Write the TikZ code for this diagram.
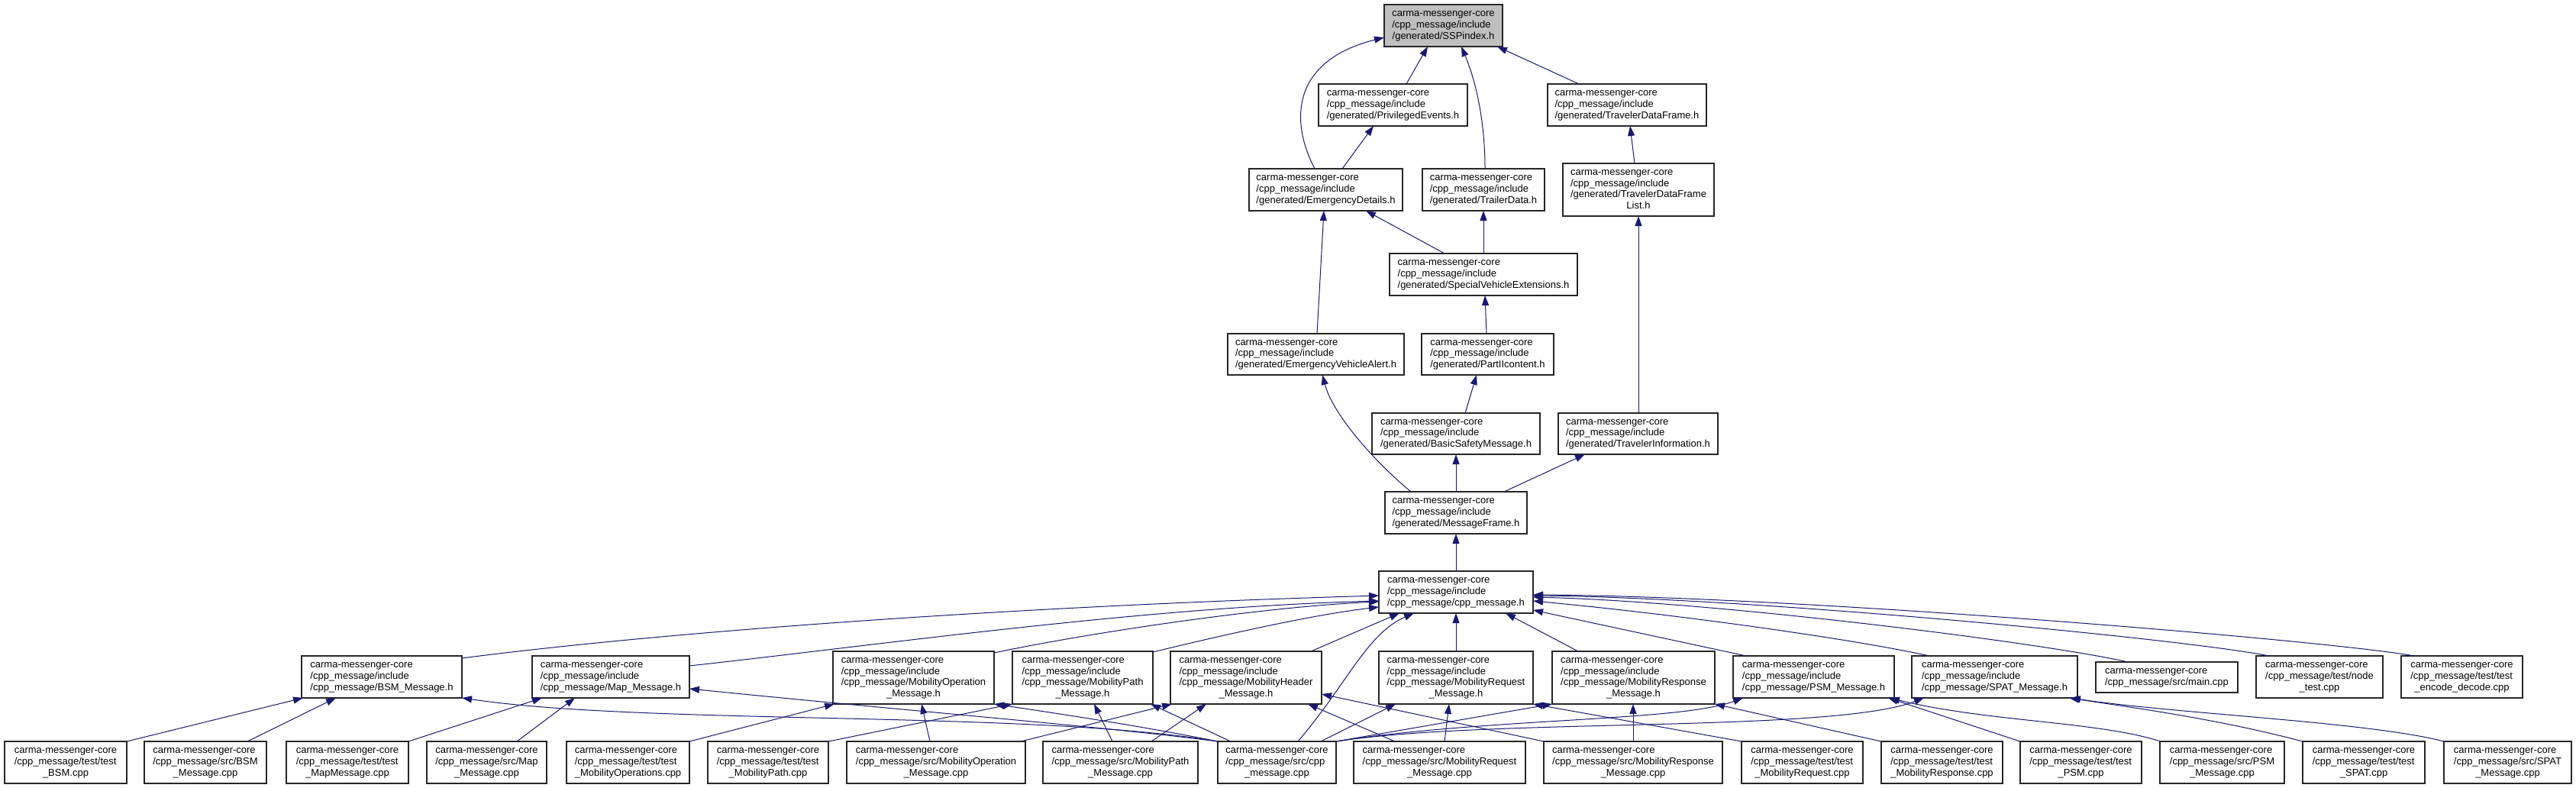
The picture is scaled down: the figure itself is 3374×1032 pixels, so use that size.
\documentclass[tikz,border=0pt]{standalone}
\usepackage{fontspec}
\setmainfont{Liberation Sans}
\usetikzlibrary{arrows.meta,calc}
\definecolor{edgeblue}{HTML}{191970}
\definecolor{rootfill}{HTML}{BFBFBF}
\newcommand\gvTwo[2]{\begin{tabular}{@{}l@{}}#1\\\multicolumn{1}{@{}c@{}}{#2}\end{tabular}}
\newcommand\gvThree[3]{\begin{tabular}{@{}l@{}}#1\\#2\\\multicolumn{1}{@{}c@{}}{#3}\end{tabular}}
\newcommand\gvFour[4]{\begin{tabular}{@{}l@{}}#1\\#2\\#3\\\multicolumn{1}{@{}c@{}}{#4}\end{tabular}}
\newcommand\cmc{carma-messenger-core}
\newcommand\cmi{/cpp\_message/include}
\begin{document}
\begin{tikzpicture}[x=1pt,y=-1pt,
  box/.style={draw=black!85, line width=1.2pt, fill=white, rectangle, inner sep=0pt, outer sep=0pt, anchor=north west, font=\fontsize{13}{14.7}\selectfont},
  edge/.style={draw=edgeblue, line width=1pt, -{Triangle[length=13pt,width=9pt]}}]
\fill[white] (0,0) rectangle (3374,1032);
\useasboundingbox (0,0) rectangle (3374,1032);
% ---- top part
\node[box, fill=rootfill, minimum width=155pt, minimum height=55pt] (ssp) at (1813,6) {\gvThree{\cmc}{\cmi}{/generated/SSPindex.h}};
\node[box, minimum width=195pt, minimum height=55pt] (priv) at (1727,110) {\gvThree{\cmc}{\cmi}{/generated/PrivilegedEvents.h}};
\node[box, minimum width=208pt, minimum height=55pt] (tdf) at (2027,110) {\gvThree{\cmc}{\cmi}{/generated/TravelerDataFrame.h}};
\node[box, minimum width=201pt, minimum height=55pt] (ed) at (1636,221) {\gvThree{\cmc}{\cmi}{/generated/EmergencyDetails.h}};
\node[box, minimum width=160pt, minimum height=55pt] (trl) at (1863,221) {\gvThree{\cmc}{\cmi}{/generated/TrailerData.h}};
\node[box, minimum width=198pt, minimum height=69pt] (tdfl) at (2047,214) {\gvFour{\cmc}{\cmi}{/generated/TravelerDataFrame}{List.h}};
\node[box, minimum width=246pt, minimum height=55pt] (sve) at (1820,332) {\gvThree{\cmc}{\cmi}{/generated/SpecialVehicleExtensions.h}};
\node[box, minimum width=231pt, minimum height=54pt] (eva) at (1608,437) {\gvThree{\cmc}{\cmi}{/generated/EmergencyVehicleAlert.h}};
\node[box, minimum width=173pt, minimum height=54pt] (p2) at (1862,437) {\gvThree{\cmc}{\cmi}{/generated/PartIIcontent.h}};
\node[box, minimum width=220pt, minimum height=54pt] (bsmsg) at (1797,541) {\gvThree{\cmc}{\cmi}{/generated/BasicSafetyMessage.h}};
\node[box, minimum width=209pt, minimum height=54pt] (ti) at (2041,541) {\gvThree{\cmc}{\cmi}{/generated/TravelerInformation.h}};
\node[box, minimum width=186pt, minimum height=55pt] (mf) at (1814,644) {\gvThree{\cmc}{\cmi}{/generated/MessageFrame.h}};
\node[box, minimum width=202pt, minimum height=55pt] (cpph) at (1806,748) {\gvThree{\cmc}{\cmi}{/cpp\_message/cpp\_message.h}};
% ---- row of headers
\node[box, minimum width=210pt, minimum height=55pt] (bsmh) at (395,859) {\gvThree{\cmc}{\cmi}{/cpp\_message/BSM\_Message.h}};
\node[box, minimum width=206pt, minimum height=55pt] (maph) at (697,859) {\gvThree{\cmc}{\cmi}{/cpp\_message/Map\_Message.h}};
\node[box, minimum width=211pt, minimum height=69pt] (moph) at (1091,853) {\gvFour{\cmc}{\cmi}{/cpp\_message/MobilityOperation}{\_Message.h}};
\node[box, minimum width=184pt, minimum height=69pt] (mpah) at (1326,853) {\gvFour{\cmc}{\cmi}{/cpp\_message/MobilityPath}{\_Message.h}};
\node[box, minimum width=198pt, minimum height=69pt] (mhdh) at (1533,853) {\gvFour{\cmc}{\cmi}{/cpp\_message/MobilityHeader}{\_Message.h}};
\node[box, minimum width=202pt, minimum height=69pt] (mreqh) at (1806,853) {\gvFour{\cmc}{\cmi}{/cpp\_message/MobilityRequest}{\_Message.h}};
\node[box, minimum width=213pt, minimum height=69pt] (mresh) at (2033,853) {\gvFour{\cmc}{\cmi}{/cpp\_message/MobilityResponse}{\_Message.h}};
\node[box, minimum width=211pt, minimum height=55pt] (psmh) at (2270,859) {\gvThree{\cmc}{\cmi}{/cpp\_message/PSM\_Message.h}};
\node[box, minimum width=217pt, minimum height=55pt] (spath) at (2504,859) {\gvThree{\cmc}{\cmi}{/cpp\_message/SPAT\_Message.h}};
\node[box, minimum width=186pt, minimum height=40pt] (mainc) at (2745,867) {\gvTwo{\cmc}{/cpp\_message/src/main.cpp}};
\node[box, minimum width=166pt, minimum height=55pt] (nodet) at (2955,859) {\gvThree{\cmc}{/cpp\_message/test/node}{\_test.cpp}};
\node[box, minimum width=159pt, minimum height=55pt] (encd) at (3145,859) {\gvThree{\cmc}{/cpp\_message/test/test}{\_encode\_decode.cpp}};
% ---- bottom row
\node[box, minimum width=160pt, minimum height=55pt] (tbsm) at (6,971) {\gvThree{\cmc}{/cpp\_message/test/test}{\_BSM.cpp}};
\node[box, minimum width=160pt, minimum height=55pt] (sbsm) at (189,971) {\gvThree{\cmc}{/cpp\_message/src/BSM}{\_Message.cpp}};
\node[box, minimum width=160pt, minimum height=55pt] (tmap) at (375,971) {\gvThree{\cmc}{/cpp\_message/test/test}{\_MapMessage.cpp}};
\node[box, minimum width=157pt, minimum height=55pt] (smap) at (559,971) {\gvThree{\cmc}{/cpp\_message/src/Map}{\_Message.cpp}};
\node[box, minimum width=161pt, minimum height=55pt] (tmop) at (742,971) {\gvThree{\cmc}{/cpp\_message/test/test}{\_MobilityOperations.cpp}};
\node[box, minimum width=158pt, minimum height=55pt] (tmpa) at (927,971) {\gvThree{\cmc}{/cpp\_message/test/test}{\_MobilityPath.cpp}};
\node[box, minimum width=234pt, minimum height=55pt] (smop) at (1109,971) {\gvThree{\cmc}{/cpp\_message/src/MobilityOperation}{\_Message.cpp}};
\node[box, minimum width=203pt, minimum height=55pt] (smpa) at (1366,971) {\gvThree{\cmc}{/cpp\_message/src/MobilityPath}{\_Message.cpp}};
\node[box, minimum width=155pt, minimum height=55pt] (scpp) at (1595,971) {\gvThree{\cmc}{/cpp\_message/src/cpp}{\_message.cpp}};
\node[box, minimum width=225pt, minimum height=55pt] (smreq) at (1773,971) {\gvThree{\cmc}{/cpp\_message/src/MobilityRequest}{\_Message.cpp}};
\node[box, minimum width=234pt, minimum height=55pt] (smres) at (2022,971) {\gvThree{\cmc}{/cpp\_message/src/MobilityResponse}{\_Message.cpp}};
\node[box, minimum width=159pt, minimum height=55pt] (tmreq) at (2281,971) {\gvThree{\cmc}{/cpp\_message/test/test}{\_MobilityRequest.cpp}};
\node[box, minimum width=159pt, minimum height=55pt] (tmres) at (2464,971) {\gvThree{\cmc}{/cpp\_message/test/test}{\_MobilityResponse.cpp}};
\node[box, minimum width=159pt, minimum height=55pt] (tpsm) at (2646,971) {\gvThree{\cmc}{/cpp\_message/test/test}{\_PSM.cpp}};
\node[box, minimum width=163pt, minimum height=55pt] (spsm) at (2829,971) {\gvThree{\cmc}{/cpp\_message/src/PSM}{\_Message.cpp}};
\node[box, minimum width=160pt, minimum height=55pt] (tspat) at (3016,971) {\gvThree{\cmc}{/cpp\_message/test/test}{\_SPAT.cpp}};
\node[box, minimum width=167pt, minimum height=55pt] (sspat) at (3201,971) {\gvThree{\cmc}{/cpp\_message/src/SPAT}{\_Message.cpp}};
% ---- edges top part
\draw[edge] ($(priv.north west)+(115,0)$) -- ($(ssp.south west)+(57,0)$);
\draw[edge] ($(ed.north west)+(86,0)$) .. controls +(-32,-61) and +(-123,31) .. ($(ssp.north west)+(0,43)$);
\draw[edge] ($(trl.north west)+(82,0)$) .. controls +(0,-71) and +(16,38) .. ($(ssp.south west)+(101,0)$);
\draw[edge] ($(tdf.north west)+(41,0)$) -- ($(ssp.south west)+(148,0)$);
\draw[edge] ($(ed.north west)+(122,0)$) -- ($(priv.south west)+(72,0)$);
\draw[edge] ($(tdfl.north west)+(94,0)$) -- ($(tdf.south west)+(108,0)$);
\draw[edge] ($(sve.north west)+(72,0)$) -- ($(ed.south west)+(153,0)$);
\draw[edge] ($(sve.north west)+(123,0)$) -- ($(trl.south west)+(80,0)$);
\draw[edge] ($(eva.north west)+(117,0)$) -- ($(ed.south west)+(98,0)$);
\draw[edge] ($(ti.north west)+(105,0)$) -- ($(tdfl.south west)+(99,0)$);
\draw[edge] ($(p2.north west)+(85,0)$) -- ($(sve.south west)+(125,0)$);
\draw[edge] ($(bsmsg.north west)+(122,0)$) -- ($(p2.south west)+(72,0)$);
\draw[edge] ($(mf.north west)+(34,0)$) .. controls +(-53,-44) and +(13,49) .. ($(eva.south west)+(124,0)$);
\draw[edge] ($(mf.north west)+(93,0)$) -- ($(bsmsg.south west)+(110,0)$);
\draw[edge] ($(mf.north west)+(156,0)$) -- ($(ti.south west)+(35,0)$);
\draw[edge] ($(cpph.north west)+(101,0)$) -- ($(mf.south west)+(93,0)$);
% ---- edges into cpp_message.h
\draw[edge] ($(bsmh.north east)+(0,3)$) .. controls +(245,-32) and +(-506,15) .. ($(cpph.north west)+(0,32)$);
\draw[edge] ($(maph.north east)+(0,13)$) .. controls +(247,-27) and +(-306,8) .. ($(cpph.north west)+(0,39)$);
\draw[edge] ($(moph.north east)+(0,2)$) .. controls +(118,-25) and +(-156,7) .. ($(cpph.north west)+(0,40)$);
\draw[edge] ($(mpah.north east)+(0,1)$) .. controls +(90,-22) and +(-86,10) .. ($(cpph.north west)+(0,47)$);
\draw[edge] ($(mhdh.north west)+(184,0)$) -- ($(cpph.south west)+(27,0)$);
\draw[edge] ($(scpp.north west)+(105,0)$) .. controls +(65,-76) and +(-62,27) .. ($(cpph.south west)+(46,0)$);
\draw[edge] ($(mreqh.north west)+(101,0)$) -- ($(cpph.south west)+(101,0)$);
\draw[edge] ($(mresh.north west)+(34,0)$) -- ($(cpph.south west)+(166,0)$);
\draw[edge] ($(psmh.north west)+(17,0)$) -- ($(cpph.north east)+(0,51)$);
\draw[edge] ($(spath.north west)+(23,0)$) .. controls +(-100,-22) and +(192,18) .. ($(cpph.north east)+(0,39)$);
\draw[edge] ($(mainc.north west)+(42,0)$) .. controls +(-110,-25) and +(242,6) .. ($(cpph.north east)+(0,34)$);
\draw[edge] ($(nodet.north west)+(17,0)$) .. controls +(-110,-22) and +(292,3) .. ($(cpph.north east)+(0,32)$);
\draw[edge] ($(encd.north west)+(17,0)$) .. controls +(-110,-20) and +(350,2) .. ($(cpph.north east)+(0,31)$);
% ---- edges bottom row
\draw[edge] (tbsm.north east) -- ($(bsmh.south west)+(2,0)$);
\draw[edge] ($(sbsm.north west)+(135,0)$) -- ($(bsmh.south west)+(45,0)$);
\draw[edge] (scpp.north west) .. controls +(-245,-41) and +(244,36) .. (bsmh.south east);
\draw[edge] (tmap.north east) -- ($(maph.south west)+(13,0)$);
\draw[edge] ($(smap.north west)+(118,0)$) -- ($(maph.south west)+(56,0)$);
\draw[edge] (scpp.north west) .. controls +(-145,-19) and +(297,30) .. ($(maph.north east)+(0,43)$);
\draw[edge] (tmop.north east) -- ($(moph.south west)+(2,0)$);
\draw[edge] ($(smop.north west)+(109,0)$) -- ($(moph.south west)+(116,0)$);
\draw[edge] (scpp.north west) .. controls +(-100,-20) and +(100,15) .. (moph.south east);
\draw[edge] (tmpa.north east) -- (mpah.south west);
\draw[edge] ($(smpa.north west)+(91,0)$) -- ($(mpah.south west)+(107,0)$);
\draw[edge] ($(scpp.north west)+(17,0)$) -- ($(mpah.south east)+(-3,0)$);
\draw[edge] ($(smop.north east)+(-6,0)$) -- ($(mhdh.south west)+(2,0)$);
\draw[edge] ($(smpa.north west)+(142,0)$) -- ($(mhdh.south west)+(47,0)$);
\draw[edge] ($(smreq.north west)+(54,0)$) -- ($(mhdh.south west)+(180,0)$);
\draw[edge] (smres.north west) -- ($(mhdh.north east)+(0,56)$);
\draw[edge] ($(scpp.north west)+(135,0)$) -- ($(mreqh.south west)+(22,0)$);
\draw[edge] ($(smreq.north west)+(119,0)$) -- ($(mreqh.south west)+(92,0)$);
\draw[edge] (tmreq.north west) -- (mreqh.south east);
\draw[edge] (scpp.north east) -- (mresh.south west);
\draw[edge] ($(smres.north west)+(117,0)$) -- ($(mresh.south west)+(106,0)$);
\draw[edge] (tmres.north west) -- (mresh.south east);
\draw[edge] (scpp.north east) .. controls +(200,-31) and +(-83,31) .. ($(psmh.south west)+(13,0)$);
\draw[edge] (scpp.north east) .. controls +(200,-31) and +(-120,46) .. ($(spath.south west)+(16,0)$);
\draw[edge] (tpsm.north west) -- ($(psmh.south east)+(-8,0)$);
\draw[edge] ($(spsm.north west)+(1,0)$) .. controls +(-80,-26) and +(125,31) .. ($(psmh.south east)+(-6,0)$);
\draw[edge] (tspat.north west) .. controls +(-117,-31) and +(70,11) .. ($(spath.south east)+(-11,0)$);
\draw[edge] (sspat.north west) .. controls +(-101,-26) and +(138,21) .. ($(spath.south east)+(-9,0)$);
\end{tikzpicture}
\end{document}
